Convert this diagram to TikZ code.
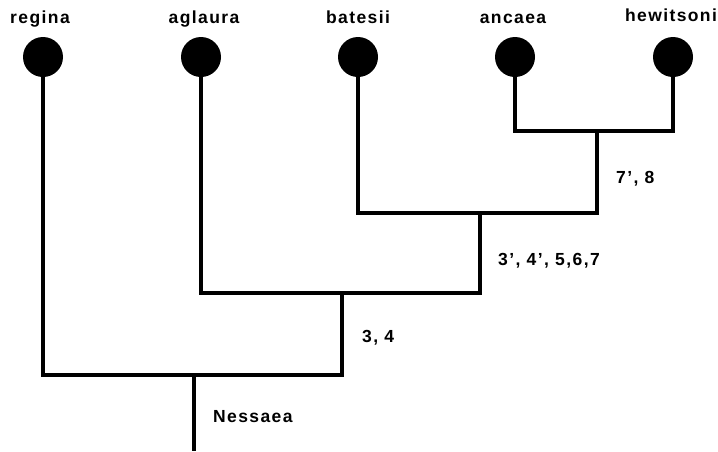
\documentclass[tikz,border=0pt]{standalone}
\usepackage{fontspec}
\setmainfont{Liberation Sans}[LetterSpace=8]
\begin{document}
\begin{tikzpicture}[x=1pt,y=-1pt,
  taxon/.style={circle,fill=black,minimum size=40pt,inner sep=0pt},
  lbl/.style={font=\bfseries\fontsize{17.5}{20}\selectfont,inner sep=0pt,anchor=base},
  branch/.style={line width=3.2pt,line cap=rect}]
\useasboundingbox (0,0) rectangle (718,451);
\node[taxon] (reg) at (43,57) {};
\node[taxon] (agl) at (201,57) {};
\node[taxon] (bat) at (358,57) {};
\node[taxon] (anc) at (515,57) {};
\node[taxon] (hew) at (673,57) {};
\node[lbl] (treg) at (40,23) {regina};
\node[lbl] (tagl) at (204,23) {aglaura};
\node[lbl] (tbat) at (358,23) {batesii};
\node[lbl] (tanc) at (513,23) {ancaea};
\node[lbl] (thew) at (671,21) {hewitsoni};
\coordinate (ah) at (597,131);
\coordinate (ah2) at (597,213);
\coordinate (bt) at (480,213);
\coordinate (bt2) at (480,293);
\coordinate (ag) at (342,293);
\coordinate (ag2) at (342,375);
\coordinate (rt) at (194,375);
\coordinate (rt2) at (194,451);
\draw[branch] (anc.center) |- (ah) -| (hew.center);
\draw[branch] (ah) -- (ah2);
\draw[branch] (bat.center) |- (ah2);
\draw[branch] (bt) -- (bt2);
\draw[branch] (agl.center) |- (bt2);
\draw[branch] (ag) -- (ag2);
\draw[branch] (reg.center) |- (ag2);
\draw[branch,line cap=butt] (rt) -- (rt2);
\node[lbl,anchor=base west] (c1) at (616,183) {7', 8};
\node[lbl,anchor=base west] (c2) at (498,265) {3', 4', 5,6,7};
\node[lbl,anchor=base west] (c3) at (362,342) {3, 4};
\node[lbl,anchor=base west] (c4) at (213,422) {Nessaea};
\end{tikzpicture}
\end{document}
